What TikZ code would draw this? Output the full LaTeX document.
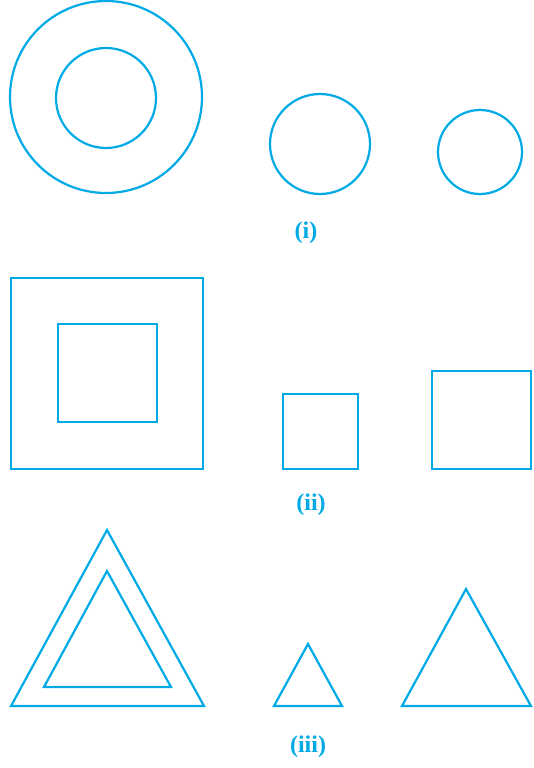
\documentclass[tikz,border=0pt]{standalone}
\usepackage{fontspec}
\setmainfont{Liberation Serif}
\usepackage{xcolor}
\usepackage{tikz}
\definecolor{figcyan}{RGB}{0,170,230}

\begin{document}
\begin{tikzpicture}[x=1pt,y=-1pt,line join=miter]
  \tikzset{outline/.style={draw=figcyan,line width=2.2pt},
    lbl/.style={text=figcyan,font=\fontsize{24}{28}\selectfont\bfseries}}
  \useasboundingbox (0,0) rectangle (534,768);
  % (i) circles
  \draw[outline] (106,97) circle (96);
  \draw[outline] (106,98) circle (50);
  \draw[outline] (320,144) circle (50);
  \draw[outline] (480,152) circle (42);
  \node[lbl] (labi) at (306,233) {(i)};
  % (ii) squares
  \draw[outline] (11,278) rectangle (203,469);
  \draw[outline] (58,324) rectangle (157,422);
  \draw[outline] (283,394) rectangle (358,469);
  \draw[outline] (432,371) rectangle (531,469);
  \node[lbl] (labii) at (311,505) {(ii)};
  % (iii) triangles
  \coordinate (TA0) at (107,530);
  \coordinate (TB0) at (107,571);
  \coordinate (TC0) at (308,644);
  \coordinate (TD0) at (466,589);
  \draw[outline] (TA0) -- (204,706) -- (11,706) -- cycle;
  \draw[outline] (TB0) -- (171,687) -- (44,687) -- cycle;
  \draw[outline] (TC0) -- (342,706) -- (274,706) -- cycle;
  \draw[outline] (TD0) -- (531,706) -- (402,706) -- cycle;
  \node[lbl] (labiii) at (308,747) {(iii)};
\end{tikzpicture}
\end{document}
